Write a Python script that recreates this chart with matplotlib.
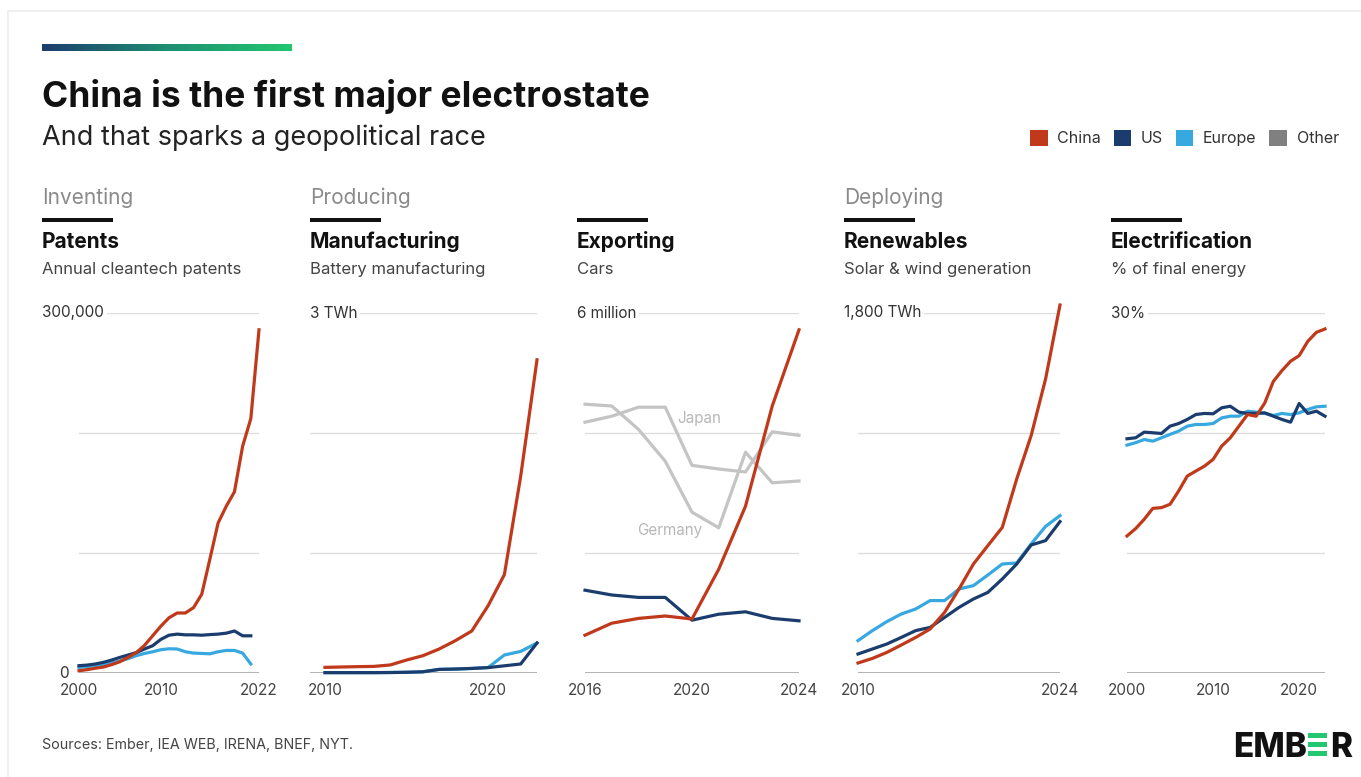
import matplotlib.pyplot as plt
import numpy as np
from matplotlib.colors import LinearSegmentedColormap
from matplotlib.patches import Patch, Rectangle

plt.rcParams['font.family'] = ['Inter', 'DejaVu Sans']

W, H = 1361, 777

# colours
CHINA = "#c0391b"
US = "#1b3d6e"
EUROPE = "#38a8e0"
OTHER = "#808080"
GREY_LINE = "#c4c4c4"

# Patents (annual cleantech patents)
patent_years = list(range(2000, 2023))
patent_china = [1900, 2800, 4000, 5000, 7000, 9400, 13000, 17000, 23000, 31000, 39000, 46000,
                50000, 50000, 54500, 65600, 95000, 125000, 139000, 151000, 189000, 212000, 286000]
patent_years_west = list(range(2000, 2022))
patent_us = [6100, 6600, 7500, 8900, 10800, 13000, 15000, 17000, 20000, 22700, 28000, 31500,
             32400, 31800, 31800, 31500, 32000, 32400, 33200, 35000, 31000, 31000]
patent_europe = [4700, 5300, 6000, 7000, 8300, 10000, 12000, 14400, 16300, 17700, 19400, 20200,
                 20000, 17700, 16600, 16300, 16000, 17700, 18800, 18800, 16600, 7500]

# Battery manufacturing (TWh)
battery_years = list(range(2010, 2024))
battery_china = [0.047, 0.05, 0.053, 0.055, 0.067, 0.108, 0.144, 0.2, 0.27, 0.35, 0.56, 0.82, 1.64, 2.61]
battery_us = [0.003, 0.003, 0.003, 0.003, 0.004, 0.006, 0.01, 0.03, 0.033, 0.038, 0.045, 0.06, 0.075, 0.25]
battery_europe = [0.003, 0.003, 0.003, 0.003, 0.004, 0.006, 0.01, 0.03, 0.033, 0.038, 0.045, 0.15, 0.18, 0.25]

# Car exports (million)
car_years = list(range(2016, 2025))
car_china = [0.63, 0.83, 0.91, 0.95, 0.90, 1.73, 2.78, 4.45, 5.72]
car_us = [1.38, 1.30, 1.26, 1.26, 0.88, 0.98, 1.02, 0.91, 0.87]
car_japan = [4.18, 4.28, 4.43, 4.43, 3.46, 3.40, 3.35, 4.02, 3.96]
car_germany = [4.48, 4.45, 4.06, 3.53, 2.68, 2.42, 3.68, 3.17, 3.20]

# Solar & wind generation (TWh)
renew_years = list(range(2010, 2025))
renew_china = [50, 73, 103, 140, 178, 220, 303, 420, 545, 637, 728, 970, 1187, 1470, 1840]
renew_us = [95, 120, 145, 178, 212, 228, 278, 328, 370, 403, 470, 545, 640, 662, 757]
renew_europe = [162, 212, 257, 295, 320, 362, 362, 420, 437, 490, 545, 550, 645, 733, 787]

# Electrification (% of final energy)
elec_years = list(range(2000, 2024))
elec_china = [11.42, 12.03, 12.81, 13.72, 13.78, 14.06, 15.17, 16.41, 16.83, 17.24, 17.8, 18.91,
              19.6, 20.57, 21.54, 21.4, 22.5, 24.3, 25.2, 25.98, 26.45, 27.64, 28.39, 28.67]
elec_us = [19.52, 19.6, 20.07, 20.02, 19.96, 20.57, 20.79, 21.13, 21.54, 21.63, 21.6, 22.1,
           22.23, 21.74, 21.63, 21.63, 21.68, 21.4, 21.13, 20.9, 22.46, 21.63, 21.82, 21.4]
elec_europe = [18.99, 19.19, 19.46, 19.32, 19.6, 19.88, 20.16, 20.57, 20.71, 20.71, 20.79, 21.26,
               21.4, 21.4, 21.82, 21.74, 21.63, 21.46, 21.63, 21.54, 21.68, 21.96, 22.18, 22.23]


def fx(x):
    return x / W


def fy(y):
    return 1 - y / H


panels = [
    dict(cat="Inventing", title="Patents", sub="Annual cleantech patents", x0=42, span=(79, 259),
         xlim=(2000, 2022), ymax=300000, top="300,000", xticks=[2000, 2010, 2022],
         series=[(patent_years_west, patent_europe, EUROPE), (patent_years_west, patent_us, US),
                 (patent_years, patent_china, CHINA)]),
    dict(cat="Producing", title="Manufacturing", sub="Battery manufacturing", x0=310, span=(310, 537),
         xlim=(2009.08, 2023), ymax=3, top="3 TWh", xticks=[2010, 2020],
         series=[(battery_years, battery_europe, EUROPE), (battery_years, battery_us, US),
                 (battery_years, battery_china, CHINA)]),
    dict(cat="", title="Exporting", sub="Cars", x0=577, span=(585, 799),
         xlim=(2016, 2024), ymax=6, top="6 million", xticks=[2016, 2020, 2024],
         series=[(car_years, car_japan, GREY_LINE), (car_years, car_germany, GREY_LINE),
                 (car_years, car_us, US), (car_years, car_china, CHINA)]),
    dict(cat="Deploying", title="Renewables", sub="Solar & wind generation", x0=844, span=(858, 1060),
         xlim=(2010, 2024), ymax=1800, top="1,800 TWh", xticks=[2010, 2024],
         series=[(renew_years, renew_europe, EUROPE), (renew_years, renew_us, US),
                 (renew_years, renew_china, CHINA)]),
    dict(cat="", title="Electrification", sub="% of final energy", x0=1111, span=(1127, 1325),
         xlim=(2000, 2023), ymax=30, top="30%", xticks=[2000, 2010, 2020],
         series=[(elec_years, elec_europe, EUROPE), (elec_years, elec_us, US),
                 (elec_years, elec_china, CHINA)]),
]

fig = plt.figure(figsize=(W / 100, H / 100), dpi=100)
fig.patch.set_facecolor("white")

# faint card outline
fig.patches.append(Rectangle((fx(8), fy(790)), fx(1400), (790 - 11) / H, transform=fig.transFigure,
                             fc="none", ec="#ededed", lw=1.2))

# gradient bar
cmap = LinearSegmentedColormap.from_list("ember", ["#1c3d6c", "#1f8f72", "#22c76f"])
cax = fig.add_axes([fx(42), fy(51), fx(292) - fx(42), 7 / H])
cax.imshow(np.linspace(0, 1, 256)[None, :], aspect="auto", cmap=cmap)
cax.axis("off")

fig.text(fx(42), fy(107), "China is the first major electrostate", fontsize=25.5, fontweight="bold",
         color="#111111", va="baseline")
fig.text(fx(42), fy(138), "And that sparks a geopolitical race", fontsize=19.5, color="#222222", va="center")

handles = [Patch(fc=CHINA, ec="none", label="China"), Patch(fc=US, ec="none", label="US"),
           Patch(fc=EUROPE, ec="none", label="Europe"), Patch(fc=OTHER, ec="none", label="Other")]
fig.legend(handles=handles, loc="center right", bbox_to_anchor=(fx(1353), fy(138)), ncol=4,
           frameon=False, handlelength=1.1, handleheight=1.2, handletextpad=0.6, columnspacing=0.8,
           fontsize=11.5, labelcolor="#333333")

bottom, top = 673, 313
for p in panels:
    x0 = p["x0"]
    if p["cat"]:
        fig.text(fx(x0), fy(198), p["cat"], fontsize=15, color="#8a8a8a", va="center")
    fig.patches.append(Rectangle((fx(x0), fy(222)), 71 / W, 4 / H, transform=fig.transFigure,
                                 fc="#111111", ec="none"))
    fig.text(fx(x0), fy(242), p["title"], fontsize=15, fontweight="bold", color="#111111", va="center")
    fig.text(fx(x0), fy(269), p["sub"], fontsize=12, color="#444444", va="center")

    l, r = p["span"]
    ax = fig.add_axes([fx(l), fy(bottom), (r - l) / W, (bottom - top) / H])
    ymax = p["ymax"]
    for xs, ys, c in p["series"]:
        ax.plot(xs, ys, color=c, lw=2.3, clip_on=False, solid_joinstyle="round")
    ax.set_xlim(*p["xlim"])
    ax.set_ylim(0, ymax)
    ax.set_yticks([ymax / 3, 2 * ymax / 3, ymax])
    ax.yaxis.grid(True, color="#dedede", lw=1)
    ax.set_axisbelow(True)
    ax.axhline(0, color="#a5a5a5", lw=1.2, zorder=1)
    ax.set_xticks(p["xticks"])
    ax.set_xticklabels([str(t) for t in p["xticks"]])
    ax.set_yticklabels([])
    ax.tick_params(length=0, pad=7, labelsize=11, labelcolor="#444444")
    for s in ax.spines.values():
        s.set_visible(False)
    ax.patch.set_alpha(0)

    fig.text(fx(x0), fy(top), p["top"], fontsize=11, color="#333333", va="center", ha="left",
             bbox=dict(fc="white", ec="none", pad=2))

    if p["title"] == "Exporting":
        ax.text(2020.26, 4.25, "Japan", fontsize=11, color="#b8b8b8", ha="center", va="center")
        ax.text(2019.18, 2.37, "Germany", fontsize=11, color="#b8b8b8", ha="center", va="center")

fig.text(fx(69), fy(bottom), "0", fontsize=11, color="#333333", ha="right", va="center")

fig.text(fx(42), fy(745), "Sources: Ember, IEA WEB, IRENA, BNEF, NYT.", fontsize=10.3, color="#444444",
         va="center")

# logo
fig.text(fx(1233), fy(757), "EMB", fontsize=24, fontweight="heavy", color="#111111", va="baseline")
for yb in (733, 742, 751):
    fig.patches.append(Rectangle((fx(1308), fy(yb + 5)), 19 / W, 5 / H, transform=fig.transFigure,
                                 fc="#22c76f", ec="none"))
fig.text(fx(1330), fy(757), "R", fontsize=24, fontweight="heavy", color="#111111", va="baseline")

fig.savefig("out.png", dpi=100, facecolor="white")
